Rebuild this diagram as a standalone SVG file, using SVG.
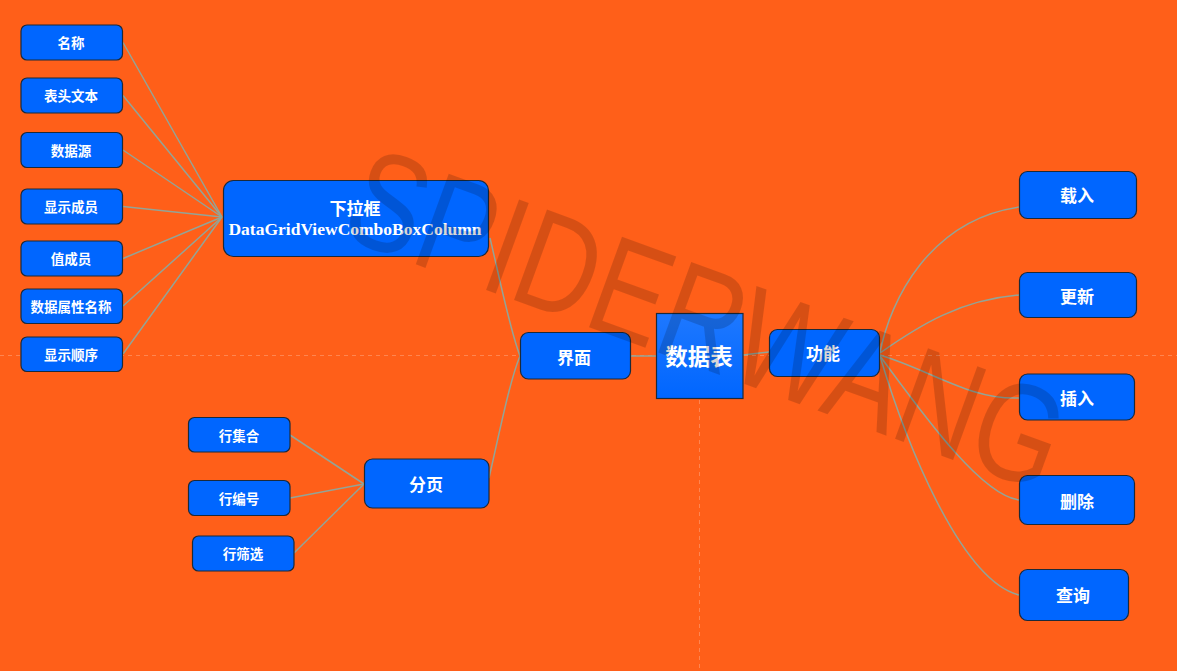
<svg xmlns="http://www.w3.org/2000/svg" width="1177" height="671" viewBox="0 0 1177 671">
  <defs>
    <style>
      .node rect { fill: #0066FF; stroke: #1B2A3A; stroke-width: 1.2; }
      .node text { fill: #FFFFFF; font-family: "Noto Sans CJK SC", "Noto Sans", sans-serif; font-weight: bold; text-anchor: middle; dominant-baseline: central; }
      .s { font-size: 13.5px; }
      .m { font-size: 17px; }
      .l { font-size: 22.5px; }
      .en { font-family: "Liberation Serif", serif !important; font-size: 17.5px; }
      .conn path { fill: none; stroke: #93A497; stroke-width: 1.5; }
      .guide { stroke: #FF8550; stroke-width: 1; stroke-dasharray: 4 4; fill: none; }
    </style>
    <linearGradient id="gcenter" x1="0" y1="0" x2="0" y2="1">
      <stop offset="0" stop-color="#1E78FF"/>
      <stop offset="1" stop-color="#0066FF"/>
    </linearGradient>
  </defs>

  <rect x="0" y="0" width="1177" height="671" fill="#FF5F19"/>

  <g id="guides">
    <line class="guide" x1="0" y1="355.5" x2="1177" y2="355.5"/>
    <line class="guide" x1="699.5" y1="400" x2="699.5" y2="671"/>
  </g>

  <g id="connectors" class="conn">
    <path d="M123,42.5 L222,217"/>
    <path d="M123,95.5 L222,217"/>
    <path d="M123,150 L222,217"/>
    <path d="M123,206.5 L222,217"/>
    <path d="M123,258.5 L222,217"/>
    <path d="M123,306 L222,217"/>
    <path d="M123,354 L222,217"/>
    <path d="M490,238 C500,280 510,330 520,356"/>
    <path d="M489,478 C500,430 510,380 520,356"/>
    <path d="M364,484 L290,435"/>
    <path d="M364,484 L290,498"/>
    <path d="M364,484 L294,553"/>
    <path d="M631,356 L656,356"/>
    <path d="M743,355 L769,352"/>
    <path d="M880,353 C890,300 930,220 1019,207"/>
    <path d="M880,353 C920,325 960,300 1019,295"/>
    <path d="M880,355 C930,370 970,400 1019,398"/>
    <path d="M880,356 C920,410 980,495 1019,500"/>
    <path d="M880,356 C905,440 960,580 1019,595"/>
  </g>

  <g id="n-mingcheng" class="node"><rect x="21" y="25" width="101.5" height="35" rx="6"/><text class="s" x="71" y="42">名称</text></g>
  <g id="n-biaotou" class="node"><rect x="21" y="78" width="101.5" height="35" rx="6"/><text class="s" x="71" y="95">表头文本</text></g>
  <g id="n-shujuyuan" class="node"><rect x="21" y="132.5" width="101.5" height="35" rx="6"/><text class="s" x="71" y="149.5">数据源</text></g>
  <g id="n-xianshichengyuan" class="node"><rect x="21" y="189" width="101.5" height="35" rx="6"/><text class="s" x="71" y="206">显示成员</text></g>
  <g id="n-zhichengyuan" class="node"><rect x="21" y="241" width="101.5" height="35" rx="6"/><text class="s" x="71" y="258">值成员</text></g>
  <g id="n-shuxingmingcheng" class="node"><rect x="21" y="289" width="101.5" height="34.5" rx="6"/><text class="s" x="71" y="305.5">数据属性名称</text></g>
  <g id="n-xianshishunxu" class="node"><rect x="21" y="337" width="101.5" height="34.5" rx="6"/><text class="s" x="71" y="353.5">显示顺序</text></g>

  <g id="n-xialakuang" class="node"><rect x="223.5" y="180.5" width="265" height="76" rx="10"/><text class="m" x="355" y="207">下拉框</text><text class="en" x="355" y="229">DataGridViewComboBoxColumn</text></g>

  <g id="n-hangjihe" class="node"><rect x="188.5" y="417.5" width="101.5" height="34.5" rx="6"/><text class="s" x="239" y="434.5">行集合</text></g>
  <g id="n-hangbianhao" class="node"><rect x="188.5" y="480.5" width="101.5" height="35" rx="6"/><text class="s" x="239" y="497.5">行编号</text></g>
  <g id="n-hangshaixuan" class="node"><rect x="192.5" y="536" width="101.5" height="35" rx="6"/><text class="s" x="243" y="552.5">行筛选</text></g>

  <g id="n-fenye" class="node"><rect x="364.5" y="459" width="124.5" height="49" rx="8"/><text class="m" x="426" y="483">分页</text></g>
  <g id="n-jiemian" class="node"><rect x="520.5" y="332.5" width="110" height="46.5" rx="8"/><text class="m" x="574" y="356">界面</text></g>

  <g id="n-shujubiao" class="node"><rect x="656.5" y="313.5" width="86.5" height="85" rx="0" style="fill:url(#gcenter)"/><text class="l" x="699" y="355">数据表</text></g>

  <g id="n-gongneng" class="node"><rect x="769.5" y="329.5" width="110" height="47" rx="8"/><text class="m" x="823" y="352">功能</text></g>

  <g id="n-zairu" class="node"><rect x="1019.5" y="171.5" width="117" height="47" rx="8"/><text class="m" x="1077" y="194">载入</text></g>
  <g id="n-gengxin" class="node"><rect x="1019.5" y="272.5" width="117" height="45" rx="8"/><text class="m" x="1077" y="295">更新</text></g>
  <g id="n-charu" class="node"><rect x="1019.5" y="374" width="115" height="46" rx="8"/><text class="m" x="1077" y="397">插入</text></g>
  <g id="n-shanchu" class="node"><rect x="1019.5" y="475.5" width="115" height="49" rx="8"/><text class="m" x="1077" y="500">删除</text></g>
  <g id="n-chaxun" class="node"><rect x="1019.5" y="569.5" width="109" height="51" rx="8"/><text class="m" x="1073" y="594">查询</text></g>

  <g id="watermark">
    <text x="0" y="0" transform="translate(338,236) rotate(20) scale(0.79,1)" font-family="Liberation Sans, Arial, sans-serif" font-size="140" fill="#000000" fill-opacity="0.16">SPIDERWANG</text>
  </g>
</svg>
